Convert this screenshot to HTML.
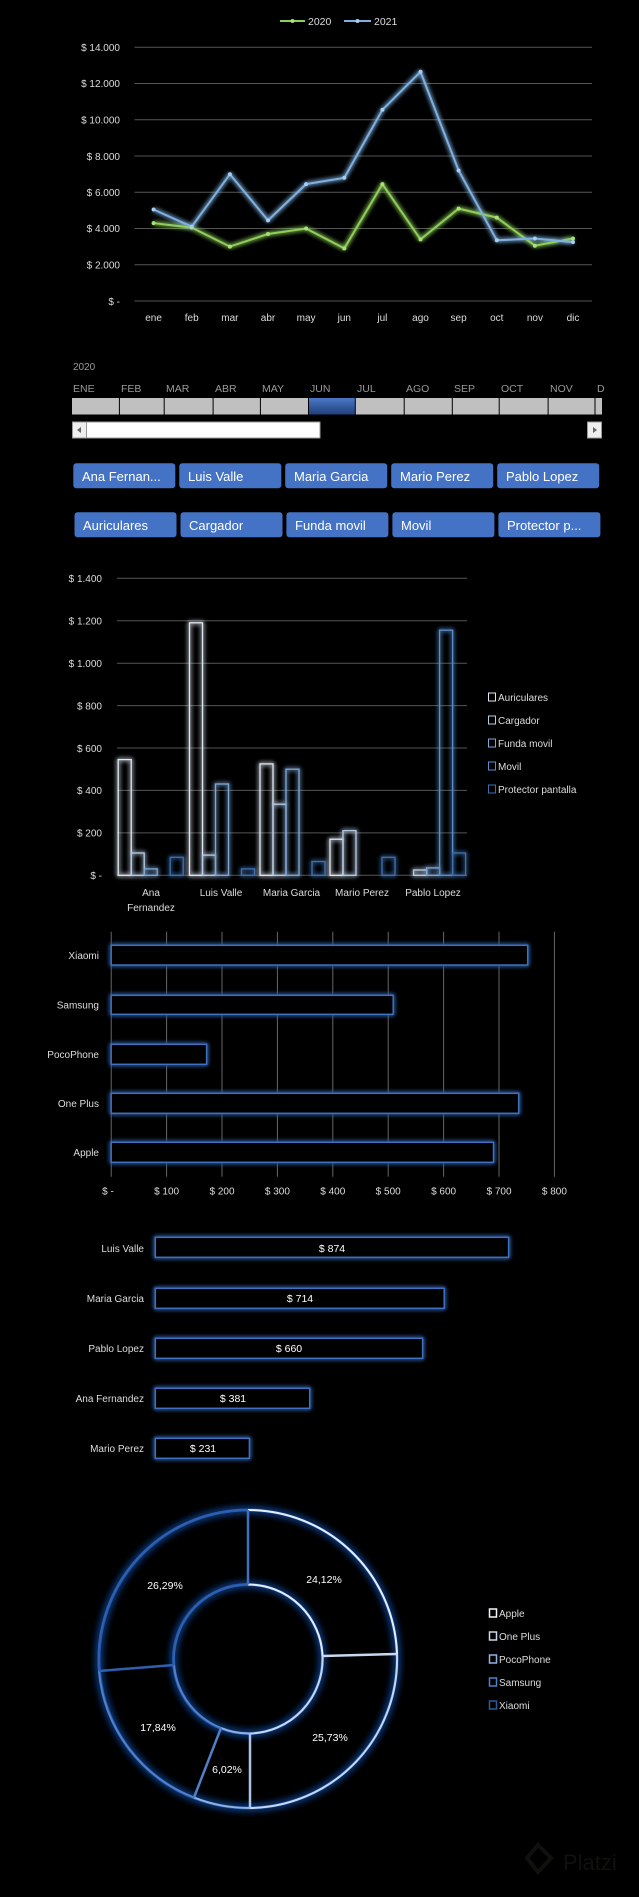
<!DOCTYPE html>
<html><head><meta charset="utf-8"><style>
html,body{margin:0;padding:0;background:#000;}
svg{display:block;}
text{font-family:"Liberation Sans",sans-serif;}
</style></head><body>
<svg width="639" height="1897" viewBox="0 0 639 1897" xmlns="http://www.w3.org/2000/svg">
<defs>
<filter id="glow" x="-20%" y="-20%" width="140%" height="140%">
<feGaussianBlur stdDeviation="2.5" result="b"/>
<feMerge><feMergeNode in="b"/><feMergeNode in="b"/><feMergeNode in="SourceGraphic"/></feMerge>
</filter>
<filter id="glow2" x="-20%" y="-20%" width="140%" height="140%">
<feGaussianBlur stdDeviation="4" result="b"/>
<feMerge><feMergeNode in="b"/><feMergeNode in="b"/><feMergeNode in="SourceGraphic"/></feMerge>
</filter>
<linearGradient id="sel" x1="0" y1="0" x2="0" y2="1"><stop offset="0" stop-color="#4a78c8"/><stop offset="1" stop-color="#1f3f7a"/></linearGradient>
</defs>
<rect width="639" height="1897" fill="#000"/>

<!-- LINE CHART -->
<g stroke="#555" stroke-width="1">
<line x1="134.5" x2="592" y1="47.3" y2="47.3"/><line x1="134.5" x2="592" y1="83.5" y2="83.5"/>
<line x1="134.5" x2="592" y1="119.8" y2="119.8"/><line x1="134.5" x2="592" y1="156" y2="156"/>
<line x1="134.5" x2="592" y1="192.3" y2="192.3"/><line x1="134.5" x2="592" y1="228.5" y2="228.5"/>
<line x1="134.5" x2="592" y1="264.8" y2="264.8"/><line x1="134.5" x2="592" y1="301" y2="301"/>
</g>
<g fill="#ddd" font-size="10" text-anchor="end">
<text x="120" y="51">$ 14.000</text><text x="120" y="87">$ 12.000</text><text x="120" y="123.5">$ 10.000</text>
<text x="120" y="160">$ 8.000</text><text x="120" y="196">$ 6.000</text><text x="120" y="232">$ 4.000</text>
<text x="120" y="268.5">$ 2.000</text><text x="120" y="305">$ -</text>
</g>
<g fill="#ddd" font-size="10" text-anchor="middle">
<text x="153.6" y="321">ene</text><text x="191.7" y="321">feb</text><text x="229.9" y="321">mar</text><text x="268" y="321">abr</text>
<text x="306.1" y="321">may</text><text x="344.3" y="321">jun</text><text x="382.4" y="321">jul</text><text x="420.5" y="321">ago</text>
<text x="458.6" y="321">sep</text><text x="496.8" y="321">oct</text><text x="534.9" y="321">nov</text><text x="573" y="321">dic</text>
</g>
<g filter="url(#glow)" fill="none" stroke-width="2">
<polyline stroke="#8fce5a" points="153.6,223.1 191.7,227.6 229.9,246.6 268,234 306.1,228.5 344.3,248.4 382.4,184.1 420.5,239.4 458.6,208.6 496.8,217.6 534.9,245.7 573,238.5"/>
<polyline stroke="#7fb0e0" points="153.6,209.5 191.7,226.7 229.9,174.2 268,220.4 306.1,184.1 344.3,177.8 382.4,109.8 420.5,71.8 458.6,170.5 496.8,240.3 534.9,238.5 573,242.1"/>
</g>
<g fill="#a8e07a">
<circle cx="153.6" cy="223.1" r="2"/><circle cx="191.7" cy="227.6" r="2"/><circle cx="229.9" cy="246.6" r="2"/><circle cx="268" cy="234" r="2"/><circle cx="306.1" cy="228.5" r="2"/><circle cx="344.3" cy="248.4" r="2"/><circle cx="382.4" cy="184.1" r="2"/><circle cx="420.5" cy="239.4" r="2"/><circle cx="458.6" cy="208.6" r="2"/><circle cx="496.8" cy="217.6" r="2"/><circle cx="534.9" cy="245.7" r="2"/><circle cx="573" cy="238.5" r="2"/>
</g>
<g fill="#a8cdf0">
<circle cx="153.6" cy="209.5" r="2"/><circle cx="191.7" cy="226.7" r="2"/><circle cx="229.9" cy="174.2" r="2"/><circle cx="268" cy="220.4" r="2"/><circle cx="306.1" cy="184.1" r="2"/><circle cx="344.3" cy="177.8" r="2"/><circle cx="382.4" cy="109.8" r="2"/><circle cx="420.5" cy="71.8" r="2"/><circle cx="458.6" cy="170.5" r="2"/><circle cx="496.8" cy="240.3" r="2"/><circle cx="534.9" cy="238.5" r="2"/><circle cx="573" cy="242.1" r="2"/>
</g>
<line x1="280" x2="305" y1="21" y2="21" stroke="#8fce5a" stroke-width="2"/><circle cx="292.5" cy="21" r="2" fill="#a8e07a"/>
<text x="308" y="25" fill="#ddd" font-size="10.5">2020</text>
<line x1="344" x2="371" y1="21" y2="21" stroke="#7fb0e0" stroke-width="2"/><circle cx="357.5" cy="21" r="2" fill="#a8cdf0"/>
<text x="374" y="25" fill="#ddd" font-size="10.5">2021</text>

<!-- TIMELINE SLICER -->
<text x="73" y="370" fill="#999" font-size="10">2020</text>
<g fill="#999" font-size="10.5">
<text x="73" y="392">ENE</text><text x="121" y="392">FEB</text><text x="166" y="392">MAR</text><text x="215" y="392">ABR</text>
<text x="262" y="392">MAY</text><text x="310" y="392">JUN</text><text x="357" y="392">JUL</text><text x="406" y="392">AGO</text>
<text x="454" y="392">SEP</text><text x="501" y="392">OCT</text><text x="550" y="392">NOV</text><text x="597" y="392">D</text>
</g>
<rect x="72" y="398" width="530" height="16.5" fill="#c0c0c0"/>
<rect x="308.5" y="398" width="46.8" height="16.5" fill="url(#sel)"/>
<g stroke="#000" stroke-width="1">
<line x1="119.4" x2="119.4" y1="398" y2="414.5"/><line x1="164.2" x2="164.2" y1="398" y2="414.5"/><line x1="213.1" x2="213.1" y1="398" y2="414.5"/><line x1="260.4" x2="260.4" y1="398" y2="414.5"/><line x1="308.5" x2="308.5" y1="398" y2="414.5"/><line x1="355.3" x2="355.3" y1="398" y2="414.5"/><line x1="404.2" x2="404.2" y1="398" y2="414.5"/><line x1="452.3" x2="452.3" y1="398" y2="414.5"/><line x1="499.2" x2="499.2" y1="398" y2="414.5"/><line x1="548.1" x2="548.1" y1="398" y2="414.5"/><line x1="595" x2="595" y1="398" y2="414.5"/>
</g>
<rect x="72.5" y="422" width="247.5" height="16" fill="#fff" stroke="#999"/>
<rect x="72.5" y="422" width="14" height="16" fill="#eee" stroke="#999"/>
<path d="M77 430 L81 427 L81 433 Z" fill="#666"/>
<rect x="587.5" y="422" width="14" height="16" fill="#eee" stroke="#999"/>
<path d="M597 430 L593 427 L593 433 Z" fill="#666"/>

<!-- BUTTONS -->
<g fill="#4472c4">
<rect x="73.3" y="463.3" width="102" height="25" rx="3"/><rect x="179.3" y="463.3" width="102" height="25" rx="3"/><rect x="285.2" y="463.3" width="102" height="25" rx="3"/><rect x="391.2" y="463.3" width="102" height="25" rx="3"/><rect x="497.2" y="463.3" width="102" height="25" rx="3"/>
<rect x="74.5" y="512.3" width="102" height="25" rx="3"/><rect x="180.5" y="512.3" width="102" height="25" rx="3"/><rect x="286.4" y="512.3" width="102" height="25" rx="3"/><rect x="392.4" y="512.3" width="102" height="25" rx="3"/><rect x="498.4" y="512.3" width="102" height="25" rx="3"/>
</g>
<g fill="#fff" font-size="13">
<text x="82" y="481">Ana Fernan...</text><text x="188" y="481">Luis Valle</text><text x="294" y="481">Maria Garcia</text><text x="400" y="481">Mario Perez</text><text x="506" y="481">Pablo Lopez</text>
<text x="83" y="530">Auriculares</text><text x="189" y="530">Cargador</text><text x="295" y="530">Funda movil</text><text x="401" y="530">Movil</text><text x="507" y="530">Protector p...</text>
</g>

<!-- COLUMN CHART -->
<g stroke="#555" stroke-width="1">
<line x1="117" x2="467" y1="578.3" y2="578.3"/><line x1="117" x2="467" y1="620.7" y2="620.7"/><line x1="117" x2="467" y1="663.2" y2="663.2"/><line x1="117" x2="467" y1="705.6" y2="705.6"/><line x1="117" x2="467" y1="748" y2="748"/><line x1="117" x2="467" y1="790.4" y2="790.4"/><line x1="117" x2="467" y1="832.9" y2="832.9"/><line x1="117" x2="467" y1="875.3" y2="875.3"/>
</g>
<g fill="#ddd" font-size="10" text-anchor="end">
<text x="102" y="582">$ 1.400</text><text x="102" y="624.5">$ 1.200</text><text x="102" y="667">$ 1.000</text><text x="102" y="709.5">$ 800</text><text x="102" y="752">$ 600</text><text x="102" y="794">$ 400</text><text x="102" y="836.5">$ 200</text><text x="102" y="879">$ -</text>
</g>
<g filter="url(#glow)" fill="none" stroke-width="1.3">
<rect x="118.2" y="759.6" width="13" height="115.7" stroke="#e0e8f4"/>
<rect x="131.2" y="853" width="13" height="22.3" stroke="#b8cde8"/>
<rect x="144.2" y="868.9" width="13" height="6.4" stroke="#7fa8d8"/>
<rect x="170.2" y="857.3" width="13" height="18" stroke="#3f70b0"/>
<rect x="189.5" y="622.8" width="13" height="252.5" stroke="#e0e8f4"/>
<rect x="202.5" y="855.1" width="13" height="20.2" stroke="#b8cde8"/>
<rect x="215.5" y="784" width="13" height="91.3" stroke="#7fa8d8"/>
<rect x="241.5" y="868.9" width="13" height="6.4" stroke="#3f70b0"/>
<rect x="260" y="763.9" width="13" height="111.4" stroke="#e0e8f4"/>
<rect x="273" y="804.2" width="13" height="71.1" stroke="#b8cde8"/>
<rect x="286" y="769.2" width="13" height="106.1" stroke="#7fa8d8"/>
<rect x="312" y="861.5" width="13" height="13.8" stroke="#3f70b0"/>
<rect x="330" y="839.2" width="13" height="36.1" stroke="#e0e8f4"/>
<rect x="343" y="830.7" width="13" height="44.6" stroke="#b8cde8"/>
<rect x="382" y="857.3" width="13" height="18" stroke="#3f70b0"/>
<rect x="413.6" y="870" width="13" height="5.3" stroke="#b8cde8"/>
<rect x="426.6" y="867.9" width="13" height="7.4" stroke="#7fa8d8"/>
<rect x="439.6" y="630.2" width="13" height="245.1" stroke="#5a8fcf"/>
<rect x="452.6" y="853" width="13" height="22.3" stroke="#3f70b0"/>
</g>
<g fill="#ddd" font-size="10" text-anchor="middle">
<text x="151" y="896">Ana</text><text x="151" y="911">Fernandez</text>
<text x="221" y="896">Luis Valle</text><text x="291.5" y="896">Maria Garcia</text><text x="362" y="896">Mario Perez</text><text x="433" y="896">Pablo Lopez</text>
</g>
<g fill="none" stroke-width="1">
<rect x="488.5" y="693" width="7" height="8" stroke="#e0e8f4"/>
<rect x="488.5" y="716" width="7" height="8" stroke="#b8cde8"/>
<rect x="488.5" y="739" width="7" height="8" stroke="#7fa8d8"/>
<rect x="488.5" y="762" width="7" height="8" stroke="#5a8fcf"/>
<rect x="488.5" y="785" width="7" height="8" stroke="#3f70b0"/>
</g>
<g fill="#ddd" font-size="10">
<text x="498" y="701">Auriculares</text><text x="498" y="724">Cargador</text><text x="498" y="747">Funda movil</text><text x="498" y="770">Movil</text><text x="498" y="793">Protector pantalla</text>
</g>

<!-- HORIZONTAL BAR CHART -->
<g stroke="#666" stroke-width="1">
<line x1="111.2" x2="111.2" y1="931.7" y2="1176.7"/><line x1="166.6" x2="166.6" y1="931.7" y2="1176.7"/><line x1="222" x2="222" y1="931.7" y2="1176.7"/><line x1="277.4" x2="277.4" y1="931.7" y2="1176.7"/><line x1="332.8" x2="332.8" y1="931.7" y2="1176.7"/><line x1="388.2" x2="388.2" y1="931.7" y2="1176.7"/><line x1="443.6" x2="443.6" y1="931.7" y2="1176.7"/><line x1="499" x2="499" y1="931.7" y2="1176.7"/><line x1="554.4" x2="554.4" y1="931.7" y2="1176.7"/>
</g>
<g filter="url(#glow)" fill="#000" stroke="#3f6fc0" stroke-width="1.5">
<rect x="111.2" y="945.3" width="416.5" height="19.7"/>
<rect x="111.2" y="995.3" width="282" height="19"/>
<rect x="111.2" y="1044.3" width="95.4" height="20"/>
<rect x="111.2" y="1093.3" width="407.5" height="20"/>
<rect x="111.2" y="1142.3" width="382.3" height="20"/>
</g>
<g fill="#ddd" font-size="10" text-anchor="end">
<text x="99" y="959">Xiaomi</text><text x="99" y="1008.5">Samsung</text><text x="99" y="1058">PocoPhone</text><text x="99" y="1107">One Plus</text><text x="99" y="1156">Apple</text>
</g>
<g fill="#ddd" font-size="10" text-anchor="middle">
<text x="108" y="1194.5">$ -</text><text x="166.6" y="1194.5">$ 100</text><text x="222" y="1194.5">$ 200</text><text x="277.4" y="1194.5">$ 300</text><text x="332.8" y="1194.5">$ 400</text><text x="388.2" y="1194.5">$ 500</text><text x="443.6" y="1194.5">$ 600</text><text x="499" y="1194.5">$ 700</text><text x="554.4" y="1194.5">$ 800</text>
</g>

<!-- SELLERS BAR -->
<g filter="url(#glow)" fill="#000" stroke="#3f6fc0" stroke-width="1.5">
<rect x="155.3" y="1237.3" width="353.3" height="20"/>
<rect x="155.3" y="1288.3" width="288.9" height="20"/>
<rect x="155.3" y="1338.3" width="267.3" height="20"/>
<rect x="155.3" y="1388.3" width="154.4" height="20"/>
<rect x="155.3" y="1438.3" width="94.1" height="20"/>
</g>
<g fill="#ddd" font-size="10" text-anchor="end">
<text x="144" y="1252">Luis Valle</text><text x="144" y="1302">Maria Garcia</text><text x="144" y="1352">Pablo Lopez</text><text x="144" y="1402">Ana Fernandez</text><text x="144" y="1452">Mario Perez</text>
</g>
<g fill="#fff" font-size="10.5" text-anchor="middle">
<text x="332" y="1252">$ 874</text><text x="300" y="1302">$ 714</text><text x="289" y="1352">$ 660</text><text x="233" y="1402">$ 381</text><text x="203" y="1452">$ 231</text>
</g>

<!-- DONUT -->
<circle cx="248" cy="1659" r="149" fill="none" stroke="#1f55b0" stroke-width="3" filter="url(#glow2)"/>
<circle cx="248" cy="1659" r="74.5" fill="none" stroke="#1f55b0" stroke-width="3" filter="url(#glow2)"/>
<g fill="none" stroke-width="2">
<path d="M248 1510 A149 149 0 0 1 397 1654 M322.5 1656 A74.5 74.5 0 0 0 248 1584.5" stroke="#e8eef8"/>
<path d="M397 1654 A149 149 0 0 1 250 1808 M250 1733.5 A74.5 74.5 0 0 0 322.5 1656" stroke="#c8d8ee"/>
<path d="M250 1808 A149 149 0 0 1 194 1797.5 M221 1728 A74.5 74.5 0 0 0 250 1733.5" stroke="#8fb2e0"/>
<path d="M194 1797.5 A149 149 0 0 1 99 1671 M174 1665 A74.5 74.5 0 0 0 221 1728" stroke="#4f80c8"/>
<path d="M99 1671 A149 149 0 0 1 248 1510 M248 1584.5 A74.5 74.5 0 0 0 174 1665" stroke="#2f60b0"/>
</g>
<g stroke-width="2.5">
<line x1="248" y1="1510" x2="248" y2="1584.5" stroke="#3f70c0"/>
<line x1="397" y1="1654" x2="322.5" y2="1656" stroke="#c8d8ee"/>
<line x1="250" y1="1808" x2="250" y2="1733.5" stroke="#a8c4e8"/>
<line x1="194" y1="1797.5" x2="221" y2="1728" stroke="#4f80c8"/>
<line x1="99" y1="1671" x2="174" y2="1665" stroke="#2f60b0"/>
</g>
<g fill="#fff" font-size="10.5" text-anchor="middle">
<text x="324" y="1583">24,12%</text><text x="165" y="1589">26,29%</text><text x="330" y="1741">25,73%</text><text x="158" y="1731">17,84%</text><text x="227" y="1773">6,02%</text>
</g>
<g fill="none" stroke-width="1.5">
<rect x="489.5" y="1609" width="7" height="8" stroke="#f0f4fa"/>
<rect x="489.5" y="1632" width="7" height="8" stroke="#c8d8ee"/>
<rect x="489.5" y="1655" width="7" height="8" stroke="#8fb2e0"/>
<rect x="489.5" y="1678" width="7" height="8" stroke="#4f80c8"/>
<rect x="489.5" y="1701" width="7" height="8" stroke="#2f5a98"/>
</g>
<g fill="#ddd" font-size="10">
<text x="499" y="1617">Apple</text><text x="499" y="1640">One Plus</text><text x="499" y="1663">PocoPhone</text><text x="499" y="1686">Samsung</text><text x="499" y="1709">Xiaomi</text>
</g>
<text x="563" y="1870" fill="#10100c" font-size="22">Platzi</text>
<path d="M538 1845 L551 1858 L538 1872 L527 1858 Z" fill="none" stroke="#10100c" stroke-width="4"/>
</svg>
</body></html>
